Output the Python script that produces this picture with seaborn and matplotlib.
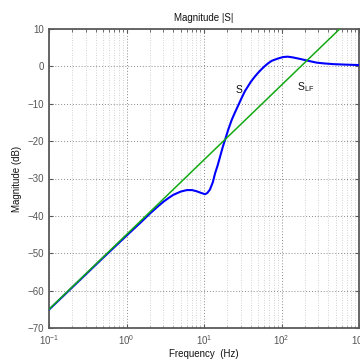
import numpy as np
import pandas as pd
import matplotlib
matplotlib.use("Agg")
import matplotlib.pyplot as plt
import seaborn as sns
from matplotlib.ticker import LogLocator, NullFormatter

# ---- data ----
freq_s = [0.1, 0.3, 0.5, 1.0, 1.5, 2.0, 2.5, 3.0, 3.5, 4.0, 5.0, 6.0, 7.0, 8.0, 9.0,
          10.3, 11.0, 11.9, 13.0, 13.9, 15.0, 16.1, 17.5, 19.0, 20.5, 22.8, 25.0,
          27.7, 30.5, 33.8, 40.0, 45.0, 50.0, 55.0, 61.0, 68.0, 75.0, 90.0, 105.0,
          120.0, 140.0, 173.0, 220.0, 284.0, 350.0, 466.0, 700.0, 1000.0]
mag_s = [-65.1, -55.6, -51.2, -45.3, -41.9, -39.4, -37.6, -36.2, -35.2, -34.4, -33.5,
         -33.1, -33.1, -33.4, -33.8, -34.2, -33.9, -33.0, -31.0, -28.6, -26.5,
         -24.2, -21.5, -19.2, -17.0, -14.3, -12.4, -10.4, -8.5, -6.6, -4.2, -2.8,
         -1.7, -0.8, 0.1, 0.9, 1.5, 2.1, 2.5, 2.6, 2.4, 2.0, 1.5, 1.0, 0.8, 0.6,
         0.45, 0.35]
freq_lf = [0.1, 1.0, 10.0, 100.0, 1000.0]
mag_lf = [-65.0, -45.0, -25.0, -5.0, 15.0]

xticks = [0.1, 1, 10, 100, 1000]
xticklabels = [r'$10^{-1}$', r'$10^{0}$', r'$10^{1}$', r'$10^{2}$', r'$10^{3}$']
yticks = [-70, -60, -50, -40, -30, -20, -10, 0, 10]

title = "Magnitude |S|"
xlabel = "Frequency  (Hz)"
ylabel = "Magnitude (dB)"

df_s = pd.DataFrame({"f": freq_s, "m": mag_s})
df_lf = pd.DataFrame({"f": freq_lf, "m": mag_lf})

sns.set_style("ticks")
plt.rcParams["font.family"] = ["Liberation Sans", "DejaVu Sans"]
plt.rcParams["mathtext.fontset"] = "custom"
plt.rcParams["mathtext.rm"] = "Liberation Sans"
plt.rcParams["mathtext.it"] = "Liberation Sans:italic"
plt.rcParams["mathtext.bf"] = "Liberation Sans:bold"

fig = plt.figure(figsize=(3.6, 3.6), dpi=100)
ax = fig.add_axes([49 / 360, 1 - 328 / 360, (359 - 49) / 360, (328 - 29) / 360])

ax.set_xscale("log")
ax.set_xlim(0.1, 1000)
ax.set_ylim(-70, 10)

sns.lineplot(data=df_s, x="f", y="m", ax=ax, color="#0000ff", linewidth=1.5,
             estimator=None, sort=False, zorder=3)
sns.lineplot(data=df_lf, x="f", y="m", ax=ax, color="#14aa14", linewidth=1.1,
             estimator=None, sort=False, zorder=4)

ax.set_xticks(xticks)
ax.set_xticklabels(xticklabels)
ax.xaxis.set_minor_locator(LogLocator(base=10, subs=np.arange(2, 10)))
ax.xaxis.set_minor_formatter(NullFormatter())
ax.set_yticks(yticks)

ax.grid(True, which="major", axis="both", linestyle=(0, (1, 2)), color="#8a8a8a", linewidth=0.7)
ax.grid(True, which="minor", axis="x", linestyle=(0, (1, 2)), color="#c4c4c4", linewidth=0.6)

for s in ax.spines.values():
    s.set_color("#5a5a5a")
    s.set_linewidth(1.3)

ax.tick_params(axis="both", which="both", direction="in", top=True, right=True,
               colors="#5a5a5a", labelcolor="#555555", labelsize=7)
ax.tick_params(which="major", length=3)
ax.tick_params(which="minor", length=1.8)
ax.tick_params(axis="x", pad=4)

ax.set_title(title, fontsize=7, pad=6, color="#111111")
ax.set_xlabel(xlabel, fontsize=7, labelpad=1, color="#111111")
ax.set_ylabel(ylabel, fontsize=7, labelpad=4, color="#111111")

ax.text(28.5, -6.3, "S", fontsize=7.5, ha="center", va="center", color="#111111")
ax.text(160, -5.6, r"S$_{\mathrm{LF}}$", fontsize=7.5, ha="left", va="center", color="#111111")

fig.savefig("out.png", dpi=100)
